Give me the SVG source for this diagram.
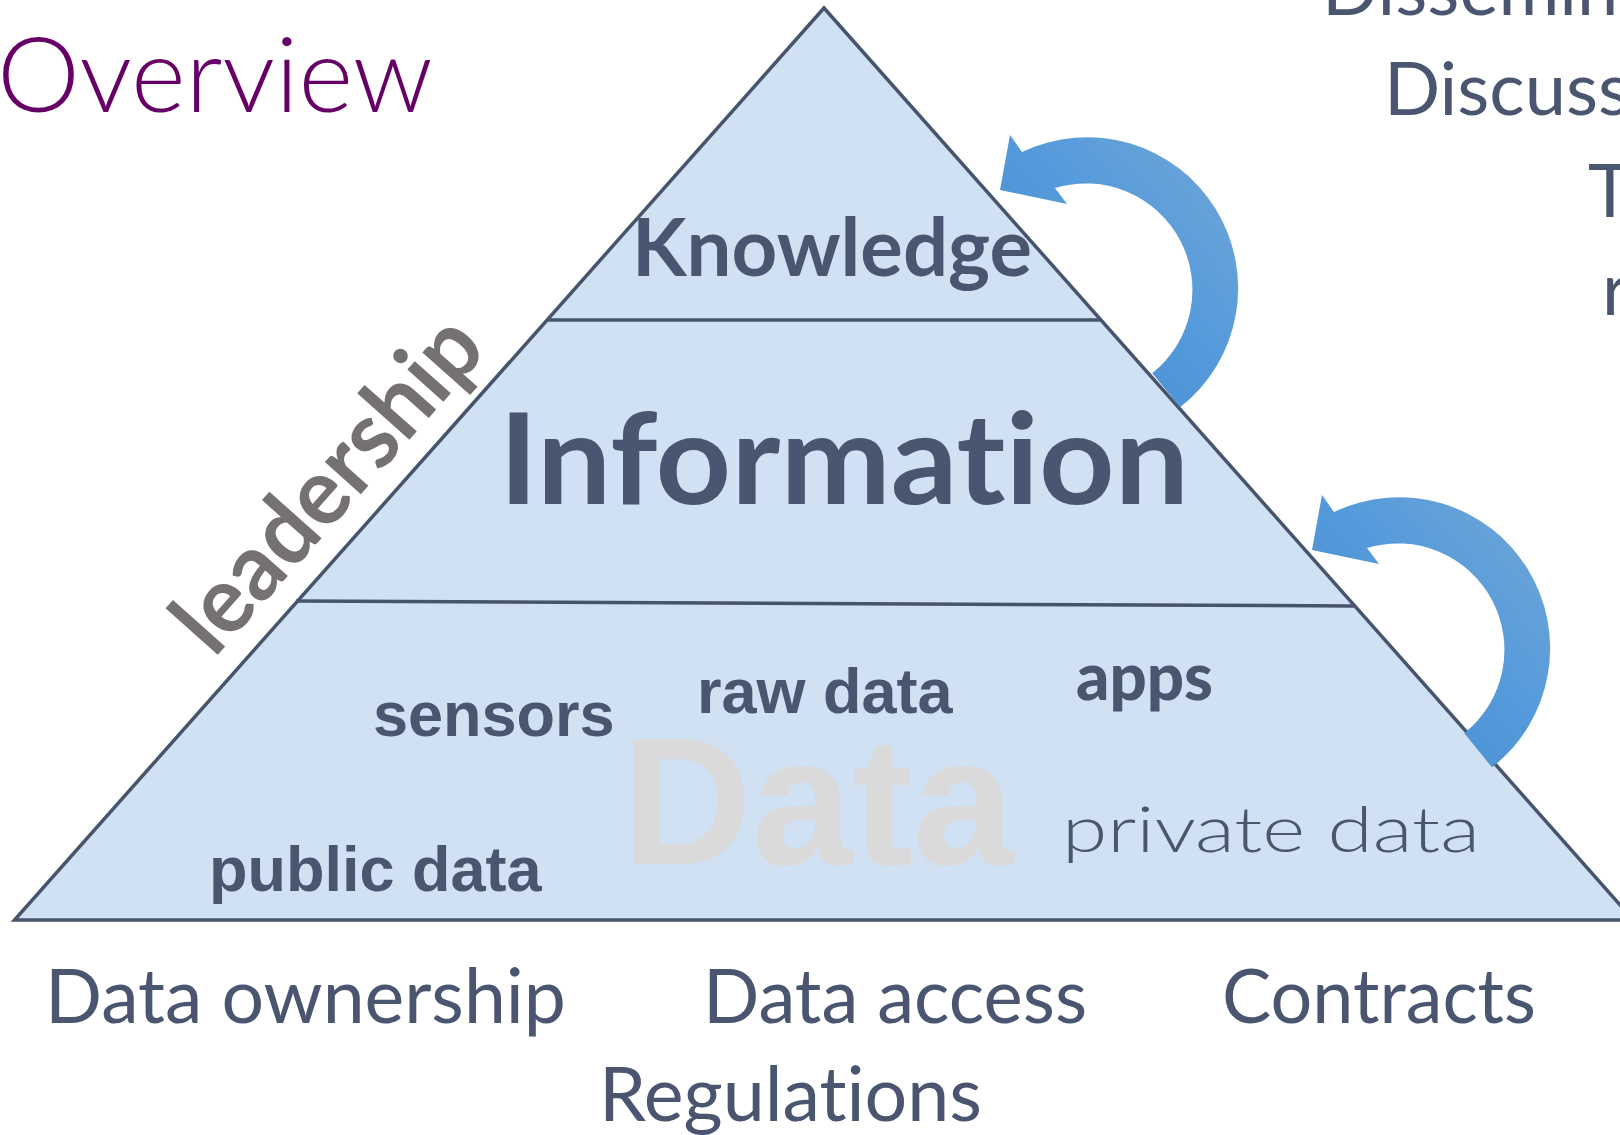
<svg xmlns="http://www.w3.org/2000/svg" width="1620" height="1135" viewBox="0 0 1620 1135">
<defs>
<style>
text{font-variant-ligatures:none;font-feature-settings:"liga" 0,"clig" 0}
.edge{fill:none;stroke:#46546c;stroke-width:3.5}
.txt{fill:#4a5570;font-family:Lato,"Open Sans",sans-serif}
.arial{fill:#4a5570;font-family:"Liberation Sans",Arial,sans-serif;font-weight:700}
</style>
<linearGradient id="ag" x1="0" y1="1" x2="1" y2="0">
<stop offset="0" stop-color="#4487c9"/>
<stop offset="0.55" stop-color="#559bdb"/>
<stop offset="1" stop-color="#72a6d8"/>
</linearGradient>
<path id="arrow" d="M1180,407.3 A151,151 0 0 0 1022,152 L1010,135 L1000,190 L1067,204 L1055,188 A106.5,106.5 0 0 1 1152.3,373.2 Z"/>
</defs>
<rect width="1620" height="1135" fill="#ffffff"/>

<g id="pyramid">
<polygon points="824,8 1633.5,920 14.5,920" fill="#cfe1f2" stroke="#46546c" stroke-width="3.5" stroke-linejoin="miter"/>
<line class="edge" x1="547" y1="320" x2="1101" y2="320"/>
<line class="edge" x1="296" y1="601" x2="1354" y2="606"/>
</g>

<g id="data-label">
<text x="621" y="864" font-family="'Liberation Sans',Arial,sans-serif" font-weight="700" font-size="181" fill="#dadada">Data</text>
</g>

<g id="knowledge"><text class="txt" x="632" y="276" font-size="80" font-weight="700" textLength="400" lengthAdjust="spacingAndGlyphs">Knowledge</text></g>
<g id="information"><text class="txt" x="499" y="504" font-size="127" font-weight="700" textLength="690" lengthAdjust="spacingAndGlyphs">Information</text></g>

<g id="sensors"><text class="arial" x="373" y="736" font-size="63">sensors</text></g>
<g id="raw-data"><text class="arial" x="697" y="713" font-size="63">raw data</text></g>
<g id="public-data"><text class="arial" x="209" y="891" font-size="63">public data</text></g>
<g id="apps"><text class="txt" x="1076" y="700" font-size="66" font-weight="900" textLength="137" lengthAdjust="spacingAndGlyphs">apps</text></g>
<g id="private-data"><text class="txt" x="1062" y="852" font-size="63" font-weight="300" textLength="418" lengthAdjust="spacingAndGlyphs">private data</text></g>

<g id="leadership"><text transform="translate(214,659) rotate(-48.3)" x="0" y="0" font-family="Lato,'Open Sans',sans-serif" font-weight="700" font-size="94" fill="#767171" textLength="413" lengthAdjust="spacingAndGlyphs">leadership</text></g>

<g id="connectors">
<use href="#arrow" fill="url(#ag)"/>
<use href="#arrow" fill="url(#ag)" transform="translate(312,360)"/>
</g>

<g id="title"><text x="-3" y="112" font-family="Lato,'Open Sans',sans-serif" font-weight="300" font-size="104" fill="#660066" textLength="436" lengthAdjust="spacingAndGlyphs">Overview</text></g>

<g id="side-texts">
<text class="txt" x="1322" y="15" font-size="74">Dissemin</text>
<text class="txt" x="1384" y="115" font-size="74">Discuss</text>
<text class="txt" x="1588" y="217" font-size="74">T</text>
<text class="txt" x="1602" y="315" font-size="74">r</text>
</g>

<g id="bottom-labels">
<text class="txt" x="45" y="1023" font-size="75" textLength="521" lengthAdjust="spacingAndGlyphs">Data ownership</text>
<text class="txt" x="703" y="1023" font-size="75" textLength="384" lengthAdjust="spacingAndGlyphs">Data access</text>
<text class="txt" x="1222" y="1023" font-size="75" textLength="314" lengthAdjust="spacingAndGlyphs">Contracts</text>
<text class="txt" x="599" y="1121" font-size="75" textLength="383" lengthAdjust="spacingAndGlyphs">Regulations</text>
</g>
</svg>
